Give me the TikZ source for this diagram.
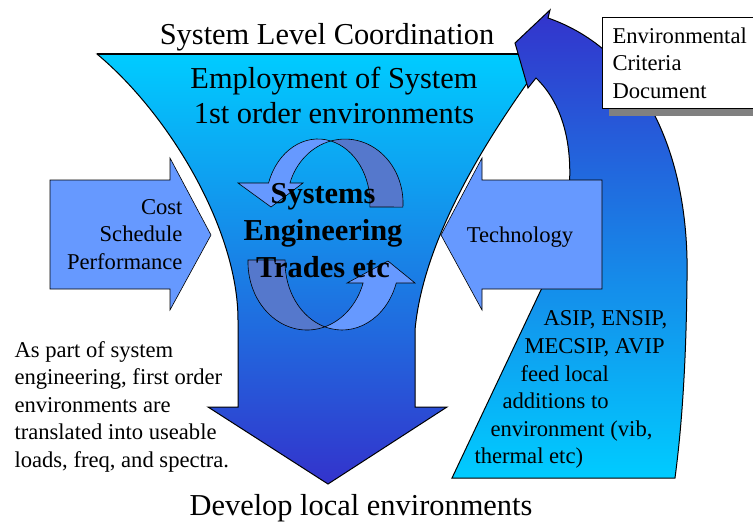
\documentclass[tikz,border=0pt]{standalone}
\usepackage{fontspec}
\setmainfont{Liberation Serif}
\definecolor{funtop}{RGB}{0,204,255}
\definecolor{funbot}{RGB}{51,51,204}
\definecolor{arrlight}{RGB}{102,153,255}
\definecolor{arrdark}{RGB}{85,120,204}
\definecolor{shadowgray}{RGB}{128,128,128}
\tikzset{
  bigtext/.style={font=\fontsize{30.4}{35}\selectfont, inner sep=0pt},
  boldtext/.style={font=\fontsize{30.4}{37}\selectfont\bfseries, inner sep=0pt},
  smalltext/.style={font=\fontsize{22.6}{27.5}\selectfont, inner sep=0pt},
}
\begin{document}
\begin{tikzpicture}[x=1pt,y=-1pt,line width=1pt]
    \clip (0,0) rectangle (753,523);

    \shadedraw[top color=funtop, bottom color=funbot] (97,54) -- (548,54)
        .. controls (515,100) and (425,220) .. (415,330) -- (415,407) -- (447,407)
        -- (328,484) -- (208,407) -- (238,407) -- (238,320)
        .. controls (238,230) and (170,115) .. (97,54) -- cycle;
    \draw[line width=1.6pt] (97,54) -- (530,54);

    \shadedraw[top color=funbot, bottom color=funtop] (452,478) -- (540,292)
        .. controls (570,235) and (590,130) .. (536,78) -- (528,88) -- (515,43)
        -- (550,10) -- (548,18) .. controls (640,50) and (690,150) .. (687,280)
        .. controls (686,380) and (680,440) .. (675,478) -- cycle;

    \fill[shadowgray] (609,25) rectangle (760,116);
    \draw[fill=white, line width=0.8pt] (602,17) rectangle (760,108);

    \draw[fill=arrlight, line width=0.6pt] (50,180) -- (170,180) -- (170,158) -- (211,235)
        -- (170,310) -- (170,289) -- (50,289) -- cycle;
    \draw[fill=arrlight, line width=0.6pt] (602,180) -- (482,180) -- (482,158) -- (441,235)
        -- (482,310) -- (482,289) -- (602,289) -- cycle;

    \draw[fill=arrlight, line width=0.6pt] (268.6,183)
        arc[start angle=198.2, end angle=284.25, x radius=52, y radius=64]
        arc[start angle=255.8, end angle=198.2, x radius=58, y radius=64]
        -- (303,183) -- (271,207) -- (238,183) -- cycle;
    \draw[fill=arrdark, line width=0.6pt] (330.8,141)
        arc[start angle=-104.2, end angle=3.6, x radius=58, y radius=64]
        -- (369.9,207)
        arc[start angle=3.6, end angle=-75.75, x radius=52, y radius=64] -- cycle;
    \draw[fill=arrdark, line width=0.6pt] (248,260)
        arc[start angle=181.7, end angle=72.4, x radius=59, y radius=68]
        arc[start angle=107.6, end angle=181.7, x radius=57, y radius=68] -- cycle;
    \draw[fill=arrlight, line width=0.6pt] (324.8,326.8)
        arc[start angle=107.6, end angle=18, x radius=57, y radius=68]
        -- (415,283) -- (388,261) -- (347,283) -- (363.1,283)
        arc[start angle=18, end angle=72.4, x radius=59, y radius=68] -- cycle;

    \node[bigtext, anchor=base] (title) at (327,44) {System Level Coordination};
    \node[bigtext, anchor=base, align=center] (employ) at (334,123) {Employment of System\\1st order environments};
    \node[bigtext, anchor=base] (develop) at (361,515) {Develop local environments};
    \node[boldtext, anchor=base, align=center] (trades) at (323,277) {Systems\\Engineering\\Trades etc};

    \node[smalltext, anchor=base east, align=right] (cost) at (183,269) {Cost\\Schedule\\Performance};
    \node[smalltext, anchor=base] (tech) at (520,242) {Technology};
    \node[smalltext, anchor=base west, align=left] (envdoc) at (612,98) {Environmental\\Criteria\\Document};
    \node[smalltext, anchor=base west, align=left] (note) at (14,467) {As part of system\\engineering, first order\\environments are\\translated into useable\\loads, freq, and spectra.};

    \node[smalltext, anchor=base west] (asip1) at (543,325) {ASIP, ENSIP,};
    \node[smalltext, anchor=base west] (asip2) at (524,353) {MECSIP, AVIP};
    \node[smalltext, anchor=base west] (asip3) at (520,381) {feed local};
    \node[smalltext, anchor=base west] (asip4) at (502,408) {additions to};
    \node[smalltext, anchor=base west] (asip5) at (490,436) {environment (vib,};
    \node[smalltext, anchor=base west] (asip6) at (474,463) {thermal etc)};

\end{tikzpicture}
\end{document}
